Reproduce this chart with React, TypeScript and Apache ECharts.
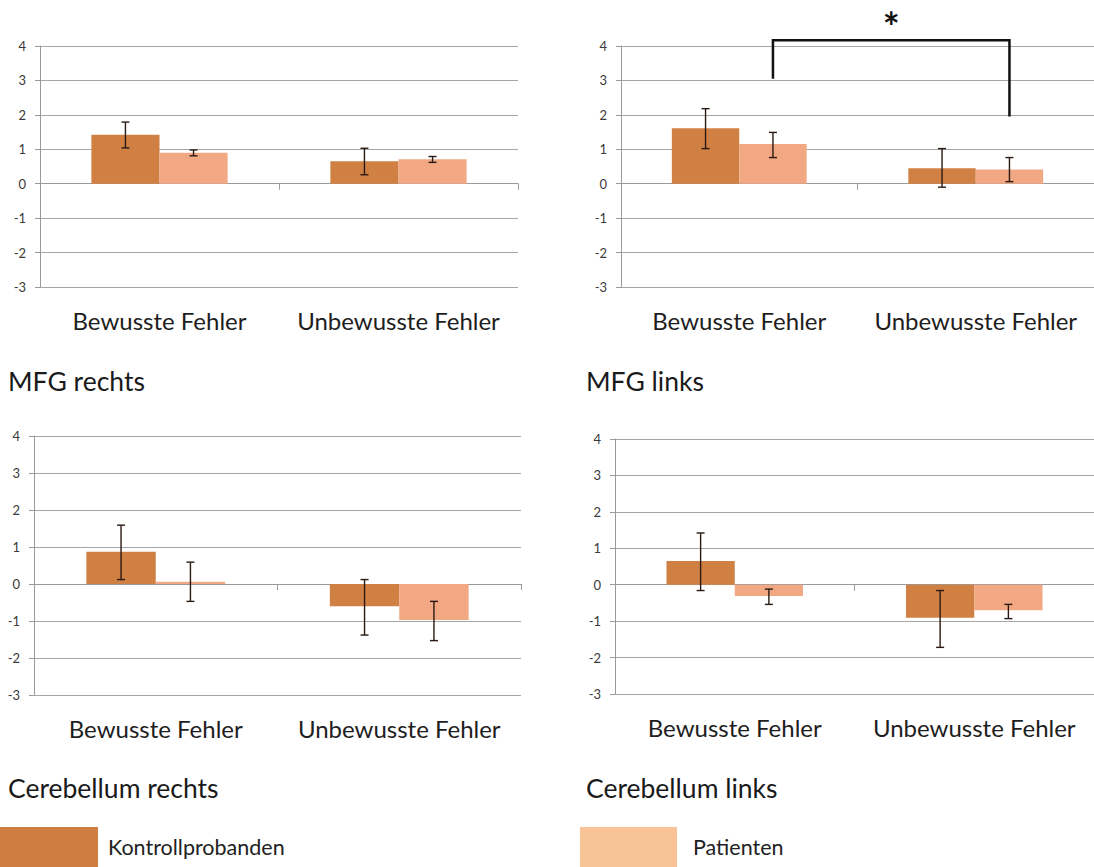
import React, { useEffect, useRef } from "react";
import * as echarts from "echarts";

const categories = ["Bewusste Fehler", "Unbewusste Fehler"];
const panelTitles = ["MFG rechts", "MFG links", "Cerebellum rechts", "Cerebellum links"];
const yTicks = { min: -3, max: 4, interval: 1 };

// MFG rechts
const mfgRechtsKontroll = [1.42, 0.65];
const mfgRechtsKontrollLow = [1.04, 0.26];
const mfgRechtsKontrollHigh = [1.79, 1.03];
const mfgRechtsPatienten = [0.9, 0.71];
const mfgRechtsPatientenLow = [0.81, 0.62];
const mfgRechtsPatientenHigh = [0.98, 0.79];

// MFG links
const mfgLinksKontroll = [1.61, 0.45];
const mfgLinksKontrollLow = [1.02, -0.1];
const mfgLinksKontrollHigh = [2.18, 1.02];
const mfgLinksPatienten = [1.15, 0.41];
const mfgLinksPatientenLow = [0.76, 0.06];
const mfgLinksPatientenHigh = [1.49, 0.76];

// Cerebellum rechts
const cerRechtsKontroll = [0.87, -0.6];
const cerRechtsKontrollLow = [0.12, -1.38];
const cerRechtsKontrollHigh = [1.59, 0.12];
const cerRechtsPatienten = [0.06, -0.97];
const cerRechtsPatientenLow = [-0.47, -1.53];
const cerRechtsPatientenHigh = [0.59, -0.47];

// Cerebellum links
const cerLinksKontroll = [0.65, -0.91];
const cerLinksKontrollLow = [-0.16, -1.72];
const cerLinksKontrollHigh = [1.42, -0.16];
const cerLinksPatienten = [-0.31, -0.7];
const cerLinksPatientenLow = [-0.54, -0.93];
const cerLinksPatientenHigh = [-0.12, -0.54];

// significance bracket (MFG links): left leg bottom, top, right leg bottom
const bracketLeftEnd = 3.05;
const bracketTop = 4.17;
const bracketRightEnd = 1.95;

const panels = [
  [mfgRechtsKontroll, mfgRechtsKontrollLow, mfgRechtsKontrollHigh, mfgRechtsPatienten, mfgRechtsPatientenLow, mfgRechtsPatientenHigh],
  [mfgLinksKontroll, mfgLinksKontrollLow, mfgLinksKontrollHigh, mfgLinksPatienten, mfgLinksPatientenLow, mfgLinksPatientenHigh],
  [cerRechtsKontroll, cerRechtsKontrollLow, cerRechtsKontrollHigh, cerRechtsPatienten, cerRechtsPatientenLow, cerRechtsPatientenHigh],
  [cerLinksKontroll, cerLinksKontrollLow, cerLinksKontrollHigh, cerLinksPatienten, cerLinksPatientenLow, cerLinksPatientenHigh],
];

const GAP = 0.43;
const DARK = "#D08042";
const LIGHT = "#F1A883";
const LEGEND_LIGHT = "#F8C396";
const FONT = "Lato";

const grids = [
  { left: 40, top: 46, width: 478, height: 241 },
  { left: 621, top: 46, width: 478, height: 241 },
  { left: 34, top: 436, width: 487, height: 259 },
  { left: 615, top: 439, width: 485, height: 255 },
];

const titlePos = [
  { x: 8, y: 381 },
  { x: 586, y: 381 },
  { x: 8, y: 788 },
  { x: 586, y: 788 },
];

function errorSeries(gi: number, low: number[], high: number[], side: number) {
  return {
    type: "custom",
    xAxisIndex: gi * 2,
    yAxisIndex: gi,
    z: 10,
    silent: true,
    encode: { x: 0, y: [1, 2] },
    data: categories.map((_, i) => [i, low[i], high[i]]),
    renderItem: (params: any, api: any) => {
      const c = api.value(0);
      const band = api.size([1, 0])[0];
      const w = (band * (1 - GAP)) / 2;
      const p1 = api.coord([c, api.value(1)]);
      const p2 = api.coord([c, api.value(2)]);
      const x = p1[0] + (side * w) / 2;
      const cap = 4;
      const st = { stroke: "#2a1a14", lineWidth: 1.4 };
      return {
        type: "group",
        children: [
          { type: "line", shape: { x1: x, y1: p1[1], x2: x, y2: p2[1] }, style: st },
          { type: "line", shape: { x1: x - cap, y1: p1[1], x2: x + cap, y2: p1[1] }, style: st },
          { type: "line", shape: { x1: x - cap, y1: p2[1], x2: x + cap, y2: p2[1] }, style: st },
        ],
      };
    },
  };
}

export default function App() {
  const ref = useRef<HTMLDivElement>(null);
  useEffect(() => {
    if (!ref.current) return;
    const chart = echarts.init(ref.current, null, { renderer: "svg" });
    const xAxis: any[] = [];
    const yAxis: any[] = [];
    const series: any[] = [];
    grids.forEach((g, gi) => {
      xAxis.push({
        type: "category",
        gridIndex: gi,
        data: categories,
        position: "bottom",
        axisLine: { onZero: true, lineStyle: { color: "#9a9a9a", width: 1 } },
        axisTick: { show: true, length: 6, lineStyle: { color: "#9a9a9a" } },
        axisLabel: { show: false },
      });
      xAxis.push({
        type: "category",
        gridIndex: gi,
        data: categories,
        position: "bottom",
        axisLine: { show: false, onZero: false },
        axisTick: { show: false },
        axisLabel: {
          show: true,
          interval: 0,
          hideOverlap: false,
          margin: 21,
          fontSize: 24,
          fontFamily: FONT,
          color: "#1e1e1e",
        },
      });
      yAxis.push({
        type: "value",
        gridIndex: gi,
        min: yTicks.min,
        max: yTicks.max,
        interval: yTicks.interval,
        axisLine: { show: true, lineStyle: { color: "#9a9a9a" } },
        axisTick: { show: true, length: 5, lineStyle: { color: "#9a9a9a" } },
        axisLabel: { margin: 14, fontSize: 13, fontFamily: FONT, color: "#3a3a3a" },
        splitLine: { show: true, lineStyle: { color: "#a6a6a6", width: 1 } },
      });
      const [k, kl, kh, p, pl, ph] = panels[gi];
      series.push({
        type: "bar",
        name: "Kontrollprobanden",
        xAxisIndex: gi * 2,
        yAxisIndex: gi,
        data: k,
        barGap: "0%",
        barCategoryGap: GAP * 100 + "%",
        itemStyle: { color: DARK },
      });
      series.push({
        type: "bar",
        name: "Patienten",
        xAxisIndex: gi * 2,
        yAxisIndex: gi,
        data: p,
        barGap: "0%",
        barCategoryGap: GAP * 100 + "%",
        itemStyle: { color: LIGHT },
      });
      series.push(errorSeries(gi, kl, kh, -1));
      series.push(errorSeries(gi, pl, ph, 1));
    });

    // significance bracket on MFG links
    series.push({
      type: "custom",
      xAxisIndex: 2,
      yAxisIndex: 1,
      z: 20,
      silent: true,
      clip: false,
      data: [[0, bracketTop]],
      renderItem: (params: any, api: any) => {
        const band = api.size([1, 0])[0];
        const w = (band * (1 - GAP)) / 2;
        const a = api.coord([0, bracketLeftEnd]);
        const t0 = api.coord([0, bracketTop]);
        const t1 = api.coord([1, bracketTop]);
        const b = api.coord([1, bracketRightEnd]);
        const dx = w / 2;
        const pts = [
          [a[0] + dx, a[1]],
          [t0[0] + dx, t0[1]],
          [t1[0] + dx, t1[1]],
          [b[0] + dx, b[1]],
        ];
        return {
          type: "group",
          children: [
            { type: "polyline", shape: { points: pts }, style: { stroke: "#111", lineWidth: 2.5, fill: null } },
            {
              type: "text",
              x: (t0[0] + t1[0]) / 2 + dx,
              y: t0[1] - 13,
              style: { text: "*", font: "bold 40px " + FONT, fill: "#111", align: "center", verticalAlign: "middle" },
            },
          ],
        };
      },
    });

    chart.setOption({
      animation: false,
      backgroundColor: "#ffffff",
      grid: grids.map((g) => ({ ...g, containLabel: false })),
      xAxis,
      yAxis,
      series,
      legend: [
        {
          left: 0,
          top: 827,
          padding: 0,
          itemWidth: 98,
          itemHeight: 40,
          icon: "rect",
          selectedMode: false,
          data: [{ name: "Kontrollprobanden", itemStyle: { color: "#CF7E41" } }],
          textStyle: { fontFamily: FONT, fontSize: 21.5, color: "#222", padding: [0, 0, 0, 5] },
        },
        {
          left: 580,
          top: 827,
          padding: 0,
          itemWidth: 97,
          itemHeight: 40,
          icon: "rect",
          selectedMode: false,
          data: [{ name: "Patienten", itemStyle: { color: LEGEND_LIGHT } }],
          textStyle: { fontFamily: FONT, fontSize: 21.5, color: "#222", padding: [0, 0, 0, 11] },
        },
      ],
      graphic: panelTitles.map((t, i) => ({
        type: "text",
        x: titlePos[i].x,
        y: titlePos[i].y,
        style: { text: t, font: "26.5px " + FONT, fill: "#1a1a1a", verticalAlign: "middle" },
      })),
    });
    return () => chart.dispose();
  }, []);
  return (
    <div
      ref={ref}
      style={{ position: "absolute", left: 0, top: 0, width: 1094, height: 867, background: "#fff" }}
    />
  );
}
